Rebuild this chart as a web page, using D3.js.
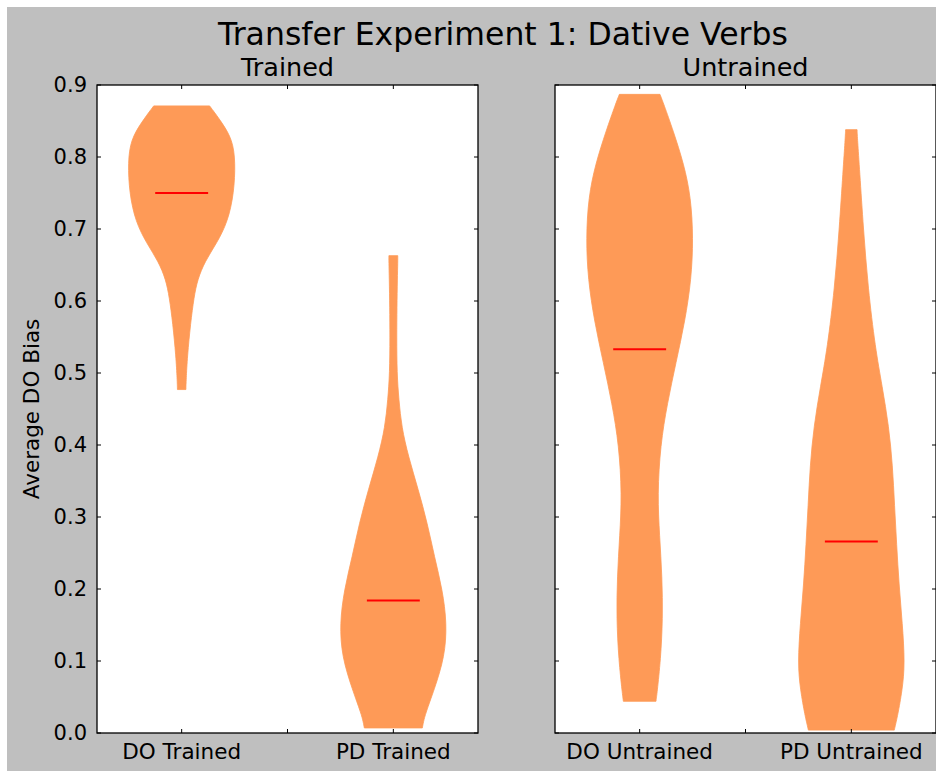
<!DOCTYPE html>
<html>
<head>
<meta charset="utf-8">
<script src="https://cdn.jsdelivr.net/npm/d3@7"></script>
<style>
  html, body { margin: 0; padding: 0; background: #ffffff; }
  svg { display: block; }
  text { font-family: "DejaVu Sans", sans-serif; fill: #000; }
</style>
</head>
<body>
<svg id="chart" width="936" height="772"></svg>
<script>
// ---- data ----
const chartTitle = "Transfer Experiment 1: Dative Verbs";
const panelTitles = ["Trained", "Untrained"];
const yLabel = "Average DO Bias";
const categories = [["DO Trained", "PD Trained"], ["DO Untrained", "PD Untrained"]];
const yTicks = [0.0, 0.1, 0.2, 0.3, 0.4, 0.5, 0.6, 0.7, 0.8, 0.9];
const xTicks = [1, 1.5, 2];

// medians of each group
const trainedMedians = [0.75, 0.184];
const untrainedMedians = [0.533, 0.266];

// kernel density outlines: [value, half-width in category units]
const doTrainedProfile = [
  [0.477, 0.020], [0.490, 0.021], [0.523, 0.027], [0.569, 0.042], [0.605, 0.058],
  [0.630, 0.075], [0.655, 0.110], [0.680, 0.165], [0.710, 0.218], [0.750, 0.247],
  [0.793, 0.254], [0.824, 0.240], [0.847, 0.192], [0.862, 0.155], [0.871, 0.132]
];
const pdTrainedProfile = [
  [0.007, 0.137], [0.015, 0.142], [0.027, 0.152], [0.060, 0.193], [0.106, 0.243],
  [0.152, 0.253], [0.199, 0.232], [0.245, 0.194], [0.291, 0.161], [0.338, 0.118],
  [0.384, 0.071], [0.425, 0.039], [0.463, 0.026], [0.500, 0.017], [0.550, 0.016],
  [0.592, 0.017], [0.630, 0.019], [0.655, 0.021], [0.663, 0.021]
];
const doUntrainedProfile = [
  [0.044, 0.077], [0.055, 0.082], [0.102, 0.099], [0.159, 0.109], [0.217, 0.106],
  [0.274, 0.094], [0.331, 0.084], [0.400, 0.098], [0.457, 0.130], [0.515, 0.172],
  [0.572, 0.214], [0.630, 0.244], [0.687, 0.253], [0.744, 0.242], [0.790, 0.209],
  [0.836, 0.159], [0.875, 0.112], [0.887, 0.096]
];
const pdUntrainedProfile = [
  [0.004, 0.203], [0.012, 0.209], [0.023, 0.218], [0.060, 0.241], [0.097, 0.253],
  [0.152, 0.241], [0.207, 0.225], [0.262, 0.214], [0.316, 0.204], [0.371, 0.195],
  [0.426, 0.177], [0.481, 0.146], [0.535, 0.113], [0.618, 0.079], [0.700, 0.057],
  [0.782, 0.039], [0.825, 0.029], [0.838, 0.027]
];

const trainedProfiles = [doTrainedProfile, pdTrainedProfile];
const untrainedProfiles = [doUntrainedProfile, pdUntrainedProfile];

// ---- layout ----
const svg = d3.select("#chart");
const W = 936, H = 772;
const plotTop = 85, plotBottom = 733, plotW = 381;
const panelLefts = [97, 555];
const violinFill = "#fe9a57";
const medianColor = "#ff0000";
const tickLen = 4;

svg.append("rect").attr("x", 7).attr("y", 7).attr("width", W - 7).attr("height", 764)
  .attr("fill", "#bfbfbf");

svg.append("text").attr("x", 503).attr("y", 44.5).attr("text-anchor", "middle")
  .style("font-size", "31.5px").text(chartTitle);

const y = d3.scaleLinear().domain([0, 0.9]).range([plotBottom, plotTop]);

function drawPanel(idx, profiles, medians, showYLabels) {
  const left = panelLefts[idx];
  const x = d3.scaleLinear().domain([0.6, 2.4]).range([left, left + plotW]);
  const g = svg.append("g");

  g.append("rect").attr("x", left).attr("y", plotTop).attr("width", plotW)
    .attr("height", plotBottom - plotTop).attr("fill", "#ffffff");

  // violins, outlined with a smooth B-spline through the density profile
  profiles.forEach((prof, i) => {
    const pos = i + 1;
    const pts = prof.slice().sort((a, b) => b[0] - a[0]);
    const area = d3.area()
      .y(d => y(d[0]))
      .x0(d => x(pos - d[1]))
      .x1(d => x(pos + d[1]))
      .curve(d3.curveBasis);
    g.append("path").datum(pts).attr("d", area)
      .attr("fill", violinFill).attr("stroke", violinFill).attr("stroke-width", 0.8);
    g.append("line")
      .attr("x1", x(pos - 0.125)).attr("x2", x(pos + 0.125))
      .attr("y1", y(medians[i])).attr("y2", y(medians[i]))
      .attr("stroke", medianColor).attr("stroke-width", 1.8);
  });

  // inward ticks on all four sides
  const tg = g.append("g").attr("stroke", "#000").attr("stroke-width", 1);
  yTicks.forEach(t => {
    tg.append("line").attr("x1", left).attr("x2", left + tickLen)
      .attr("y1", y(t)).attr("y2", y(t));
    tg.append("line").attr("x1", left + plotW - tickLen).attr("x2", left + plotW)
      .attr("y1", y(t)).attr("y2", y(t));
  });
  xTicks.forEach(t => {
    tg.append("line").attr("x1", x(t)).attr("x2", x(t))
      .attr("y1", plotTop).attr("y2", plotTop + tickLen);
    tg.append("line").attr("x1", x(t)).attr("x2", x(t))
      .attr("y1", plotBottom - tickLen).attr("y2", plotBottom);
  });

  // frame
  g.append("rect").attr("x", left).attr("y", plotTop).attr("width", plotW)
    .attr("height", plotBottom - plotTop).attr("fill", "none")
    .attr("stroke", "#000").attr("stroke-width", 1.3);

  if (showYLabels) {
    yTicks.forEach(t => {
      g.append("text").attr("x", left - 10).attr("y", y(t))
        .attr("text-anchor", "end").attr("dominant-baseline", "central")
        .style("font-size", "21px").text(d3.format(".1f")(t));
    });
  }

  categories[idx].forEach((c, i) => {
    g.append("text").attr("x", x(i + 1)).attr("y", 759)
      .attr("text-anchor", "middle").style("font-size", "21.5px").text(c);
  });

  g.append("text").attr("x", left + plotW / 2).attr("y", 76)
    .attr("text-anchor", "middle").style("font-size", "25.5px").text(panelTitles[idx]);
}

drawPanel(0, trainedProfiles, trainedMedians, true);
drawPanel(1, untrainedProfiles, untrainedMedians, false);

svg.append("text")
  .attr("transform", `translate(38.5, ${(plotTop + plotBottom) / 2}) rotate(-90)`)
  .attr("text-anchor", "middle").style("font-size", "21.5px").text(yLabel);
</script>
</body>
</html>
